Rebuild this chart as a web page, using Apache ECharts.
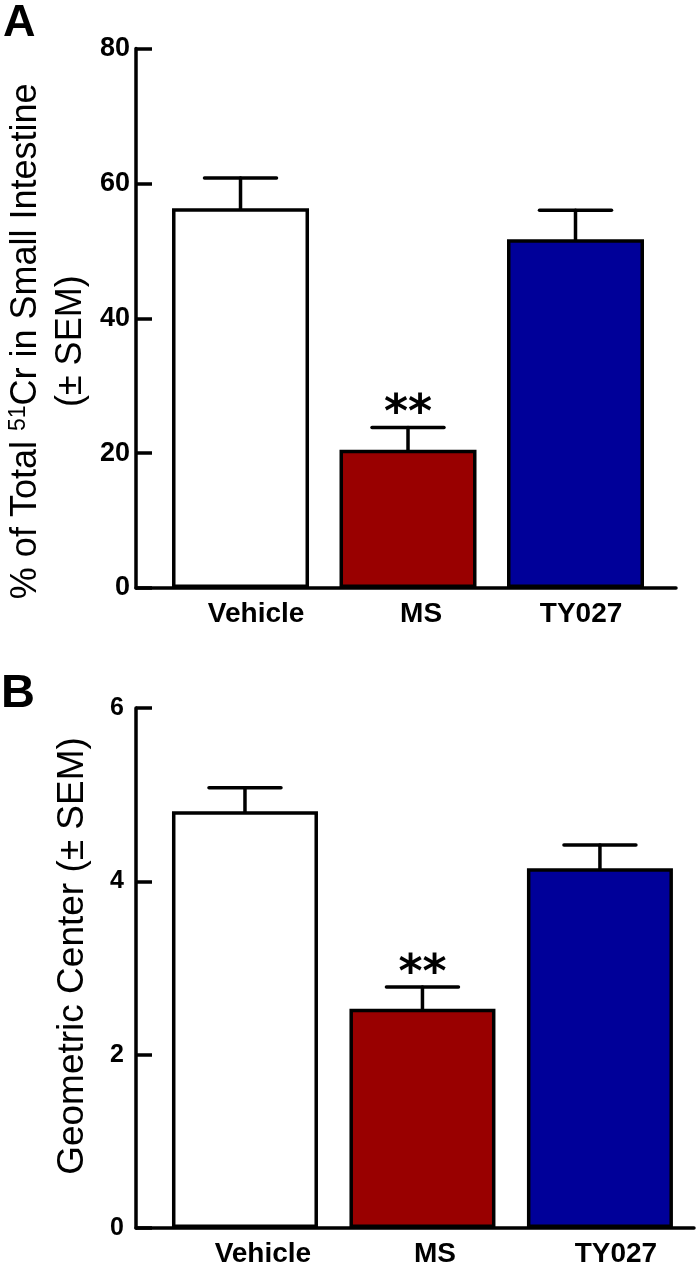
<!DOCTYPE html>
<html>
<head>
<meta charset="utf-8">
<script src="https://cdn.jsdelivr.net/npm/echarts@6/dist/echarts.min.js"></script>
<style>
html,body{margin:0;padding:0;background:#fff;}
#chart{width:698px;height:1271px;}
</style>
</head>
<body>
<div id="chart"></div>
<script>
// ---- data ----
const categories = ['Vehicle', 'MS', 'TY027'];
const chromiumPct = [56.3, 20.5, 51.7];
const chromiumSem = [4.5, 3.3, 4.3];
const geoCenter = [4.81, 2.53, 4.15];
const geoSem = [0.27, 0.25, 0.27];
const sigA = ['', '**', ''];
const sigB = ['', '**', ''];

const FONT = 'Liberation Sans';
const barColors = ['#ffffff', '#990000', '#000099'];

function errRender(params, api) {
  const x = api.value(0);
  const p0 = api.coord([x, api.value(1)]);
  const p1 = api.coord([x, api.value(2)]);
  const hw = 36;
  const st = { stroke: '#000', lineWidth: 3.5, lineCap: 'round' };
  return {
    type: 'group',
    children: [
      { type: 'line', shape: { x1: p0[0], y1: p0[1], x2: p1[0], y2: p1[1] }, style: st },
      { type: 'line', shape: { x1: p1[0] - hw, y1: p1[1], x2: p1[0] + hw, y2: p1[1] }, style: st }
    ]
  };
}
function starRender(sig) {
  return function (params, api) {
    const s = sig[params.dataIndex];
    if (!s) return null;
    const p = api.coord([api.value(0), api.value(1)]);
    return {
      type: 'text',
      style: {
        text: s, x: p[0], y: p[1] - 12,
        textAlign: 'center', textVerticalAlign: 'middle',
        font: 'bold 46px "DejaVu Sans"', fill: '#000'
      }
    };
  };
}

function xAxisCfg(gi, min, max, labelVals) {
  return {
    gridIndex: gi, type: 'value', min: min, max: max,
    axisLine: { show: true, onZero: false, lineStyle: { color: '#000', width: 3.5 } },
    axisTick: { show: false },
    splitLine: { show: false },
    axisLabel: {
      customValues: labelVals,
      formatter: function (v) { return categories[Math.round(v)]; },
      color: '#000', fontFamily: FONT, fontWeight: 'bold', fontSize: 28, margin: 12
    }
  };
}
function yAxisCfg(gi, max, interval, labelSize, margin, name, nameGap, nameSize, namePad, rich) {
  return {
    gridIndex: gi, type: 'value', min: 0, max: max, interval: interval,
    axisLine: { show: true, onZero: false, lineStyle: { color: '#000', width: 3.5 } },
    axisTick: { show: true, inside: true, length: 16, lineStyle: { color: '#000', width: 3.5 } },
    splitLine: { show: false },
    axisLabel: { color: '#000', fontFamily: FONT, fontWeight: 'bold', fontSize: labelSize, margin: margin },
    name: name, nameLocation: 'middle', nameRotate: 90, nameGap: nameGap,
    nameTextStyle: Object.assign({ color: '#000', fontFamily: FONT, fontSize: nameSize, padding: namePad }, rich ? { rich: rich } : {})
  };
}

const chart = echarts.init(document.getElementById('chart'), null, { renderer: 'canvas' });
const richA = {
  a: { fontFamily: FONT, fontSize: 36, color: '#000', lineHeight: 45 },
  sup: { fontFamily: FONT, fontSize: 23, color: '#000', lineHeight: 45, verticalAlign: 'top', padding: [4, 0, 0, 0] }
};
chart.setOption({
  animation: false,
  backgroundColor: '#fff',
  title: [
    { text: 'A', left: 3, top: 1, padding: 0, textStyle: { fontFamily: FONT, fontWeight: 'bold', fontSize: 45, color: '#000' } },
    { text: 'B', left: 1, top: 671, padding: 0, textStyle: { fontFamily: FONT, fontWeight: 'bold', fontSize: 47, color: '#000' } }
  ],
  grid: [
    { left: 136, right: 22, top: 48.5, bottom: 683, containLabel: false, outerBoundsMode: 'none' },
    { left: 136, right: 4, top: 708, bottom: 43, containLabel: false, outerBoundsMode: 'none' }
  ],
  xAxis: [
    xAxisCfg(0, -0.624, 2.600, [0.093, 1.078, 2.033]),
    xAxisCfg(1, -0.614, 2.530, [0.101, 1.070, 2.090])
  ],
  yAxis: [
    yAxisCfg(0, 80, 20, 27, 6, '{a|% of Total }{sup|51}{a|Cr in Small Intestine}\n{a|(± SEM)}', 40, 36, [0, 46, 0, 0], richA),
    yAxisCfg(1, 6, 2, 25, 12, 'Geometric Center (± SEM)', 45, 37, [0, 0, 0, 24], null)
  ],
  series: [
    {
      type: 'bar', xAxisIndex: 0, yAxisIndex: 0, barWidth: 137,
      itemStyle: { borderColor: '#000', borderWidth: 3.5 },
      data: chromiumPct.map((v, i) => ({ value: [i, v], itemStyle: { color: barColors[i] } }))
    },
    {
      type: 'custom', xAxisIndex: 0, yAxisIndex: 0, renderItem: errRender, z: 5,
      encode: { x: 0, y: [1, 2] },
      data: chromiumPct.map((v, i) => [i, v, v + chromiumSem[i]])
    },
    {
      type: 'custom', xAxisIndex: 0, yAxisIndex: 0, renderItem: starRender(sigA), z: 6,
      encode: { x: 0, y: 1 },
      data: chromiumPct.map((v, i) => [i, v + chromiumSem[i]])
    },
    {
      type: 'bar', xAxisIndex: 1, yAxisIndex: 1, barWidth: 146,
      itemStyle: { borderColor: '#000', borderWidth: 3.5 },
      data: geoCenter.map((v, i) => ({ value: [i, v], itemStyle: { color: barColors[i] } }))
    },
    {
      type: 'custom', xAxisIndex: 1, yAxisIndex: 1, renderItem: errRender, z: 5,
      encode: { x: 0, y: [1, 2] },
      data: geoCenter.map((v, i) => [i, v, v + geoSem[i]])
    },
    {
      type: 'custom', xAxisIndex: 1, yAxisIndex: 1, renderItem: starRender(sigB), z: 6,
      encode: { x: 0, y: 1 },
      data: geoCenter.map((v, i) => [i, v + geoSem[i]])
    }
  ]
});
</script>
</body>
</html>
